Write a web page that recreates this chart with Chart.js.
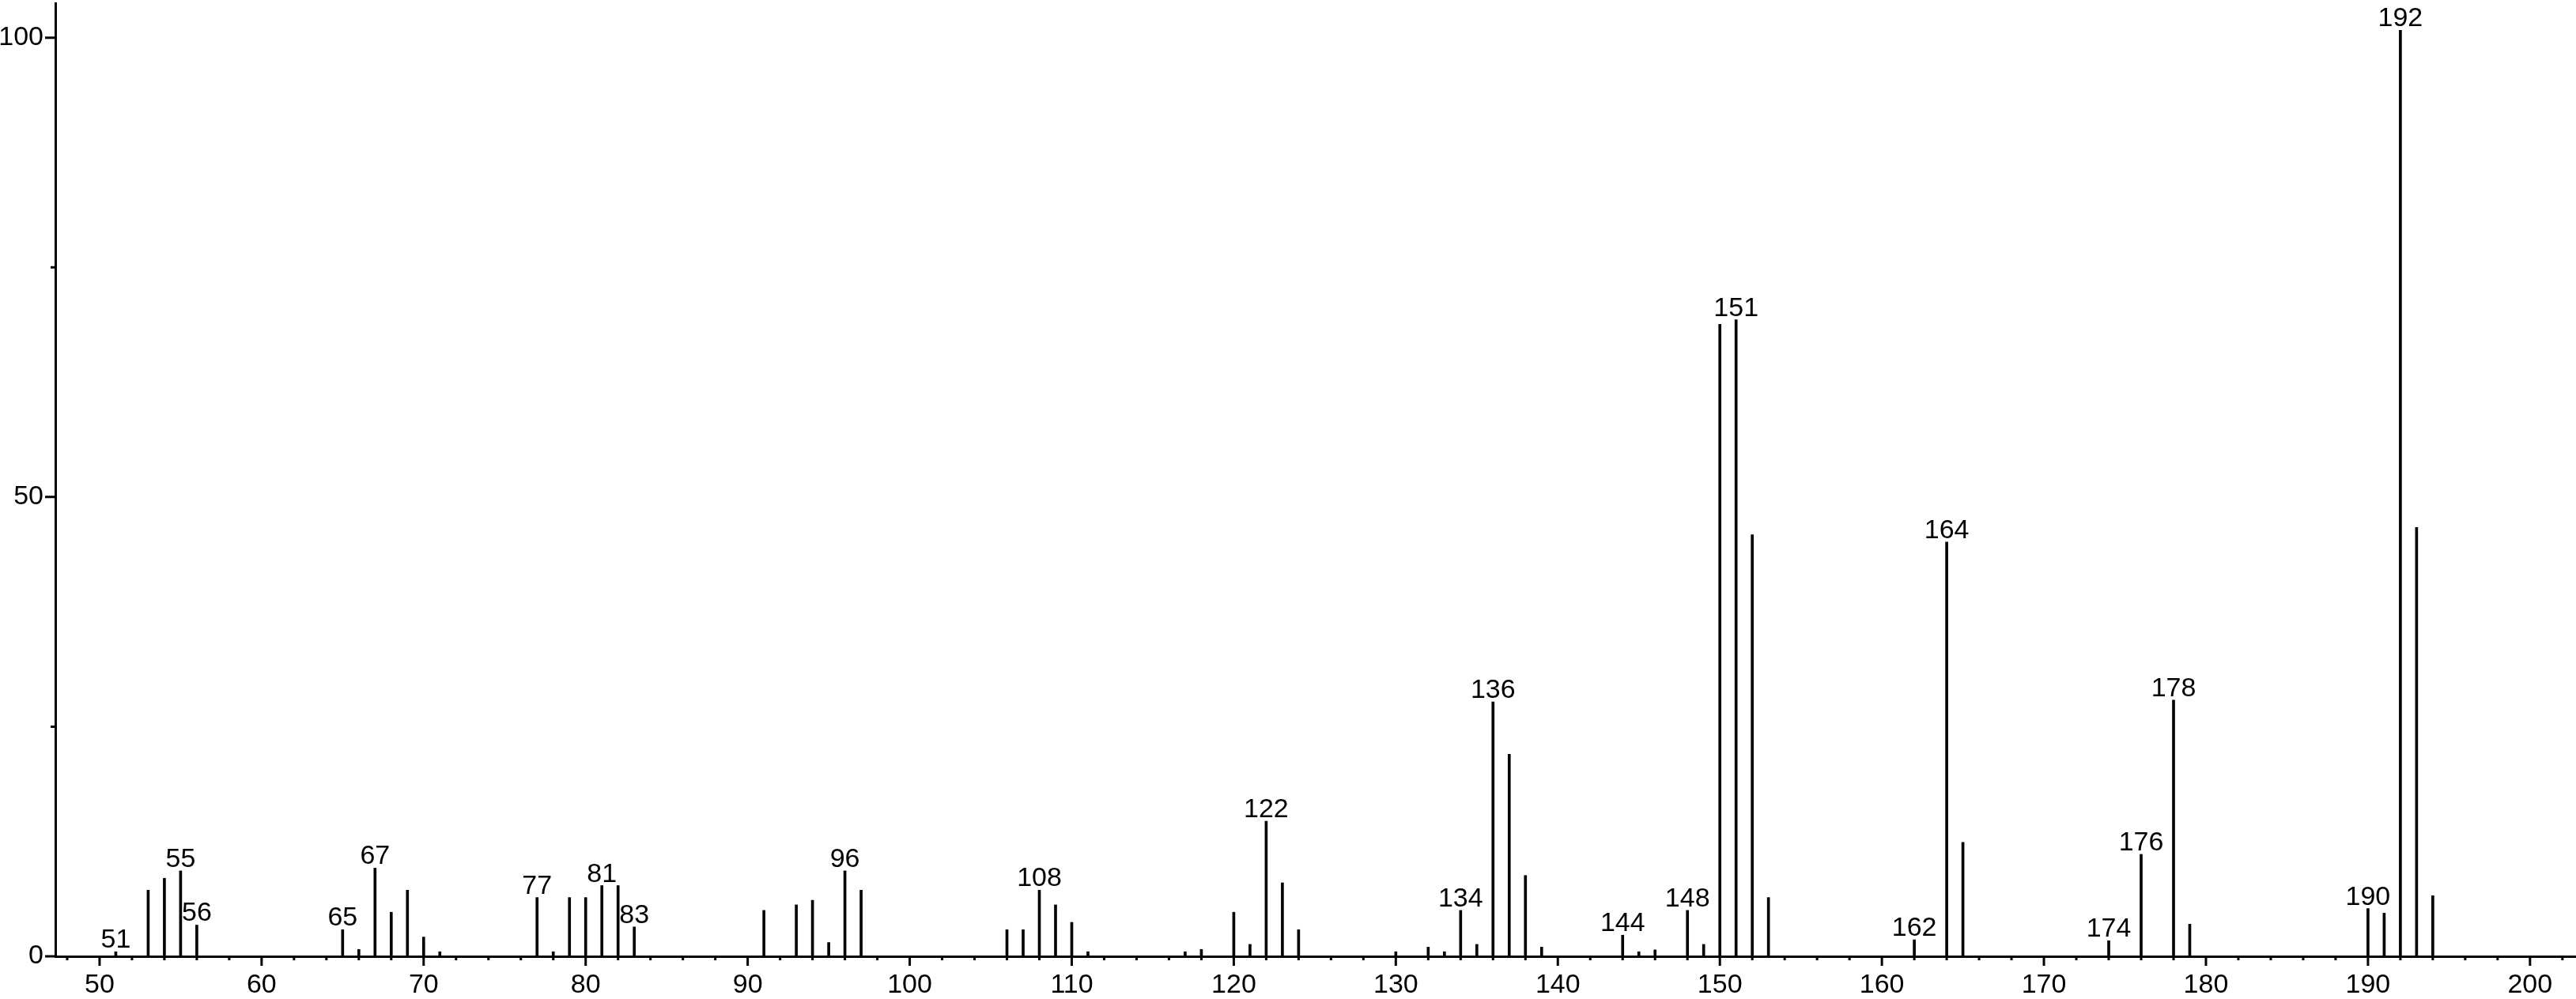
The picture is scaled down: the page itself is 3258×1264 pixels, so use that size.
<!DOCTYPE html>
<html>
<head>
<meta charset="utf-8">
<script src="https://cdn.jsdelivr.net/npm/chart.js@4"></script>
<style>
  html, body { margin: 0; padding: 0; background: #fff; }
  canvas { display: block; }
</style>
</head>
<body>
<canvas id="spectrum" width="3258" height="1264"></canvas>
<script>
// m/z values and relative intensities
const mz = [
  51, 53, 54, 55, 56, 65, 66, 67, 68, 69, 70, 71,
  77, 78, 79, 80, 81, 82, 83, 91, 93, 94, 95, 96, 97,
  106, 107, 108, 109, 110, 111, 117, 118, 120, 121, 122, 123, 124,
  130, 132, 133, 134, 135, 136, 137, 138, 139,
  144, 145, 146, 148, 149, 150, 151, 152, 153,
  162, 164, 165, 174, 176, 178, 179, 190, 191, 192, 193, 194
];
const intensity = [
  0.5, 7.2, 8.5, 9.3, 3.4, 2.9, 0.75, 9.6, 4.8, 7.2, 2.1, 0.5,
  6.4, 0.5, 6.4, 6.4, 7.7, 7.7, 3.2, 5.0, 5.6, 6.1, 1.5, 9.3, 7.2,
  2.9, 2.9, 7.2, 5.6, 3.7, 0.5, 0.5, 0.75, 4.8, 1.3, 14.7, 8.0, 2.9,
  0.5, 1.0, 0.5, 5.0, 1.3, 27.7, 22.0, 8.8, 1.0,
  2.3, 0.5, 0.7, 5.0, 1.3, 68.8, 69.3, 45.9, 6.4,
  1.8, 45.1, 12.4, 1.7, 11.1, 27.9, 3.5, 5.2, 4.7, 100.8, 46.7, 6.6
];
// peaks that carry an m/z label
const labelled = [51, 55, 56, 65, 67, 77, 81, 83, 96, 108, 122, 134, 136,
  144, 148, 151, 162, 164, 174, 176, 178, 190, 192];
// axis ticks
const xMajor = 10, xStep = 2;
const yMajor = 50, yStep = 25;

Chart.defaults.font.family = '"Liberation Sans", Arial, sans-serif';
Chart.defaults.font.size = 34;
Chart.defaults.color = '#000';

// tick marks: long ones at labelled values, short ones between
const tickMarks = {
  id: 'tickMarks',
  afterDraw(chart) {
    const { ctx, scales: { x, y } } = chart;
    ctx.save();
    ctx.strokeStyle = '#000';
    ctx.lineWidth = 3;
    ctx.beginPath();
    x.ticks.forEach(t => {
      const px = x.getPixelForValue(t.value);
      const len = t.value % xMajor === 0 ? 12 : 5;
      ctx.moveTo(px, x.top);
      ctx.lineTo(px, x.top + len);
    });
    y.ticks.forEach(t => {
      const py = y.getPixelForValue(t.value);
      const len = t.value % yMajor === 0 ? 13 : 6;
      ctx.moveTo(y.right - len, py);
      ctx.lineTo(y.right, py);
    });
    ctx.stroke();
    ctx.restore();
  }
};

// m/z labels above the main peaks
const peakLabels = {
  id: 'peakLabels',
  afterDatasetsDraw(chart) {
    const ctx = chart.ctx;
    const meta = chart.getDatasetMeta(0);
    ctx.save();
    ctx.font = '34px "Liberation Sans", Arial, sans-serif';
    ctx.fillStyle = '#000';
    ctx.textAlign = 'center';
    ctx.textBaseline = 'alphabetic';
    labelled.forEach(m => {
      const bar = meta.data[mz.indexOf(m)];
      if (bar) ctx.fillText(String(m), bar.x, bar.y - 5);
    });
    ctx.restore();
  }
};

new Chart(document.getElementById('spectrum'), {
  type: 'bar',
  data: {
    datasets: [{
      data: mz.map((m, i) => ({ x: m, y: intensity[i] })),
      backgroundColor: '#000',
      borderWidth: 0,
      barThickness: 3
    }]
  },
  options: {
    responsive: false,
    animation: false,
    layout: { padding: { top: 4, right: 1, left: 0, bottom: 0 } },
    plugins: { legend: { display: false }, tooltip: { enabled: false } },
    scales: {
      x: {
        type: 'linear',
        offset: false,
        min: 47.27,
        max: 202.79,
        afterFit: s => {
          s.height = 54;
          s.paddingLeft = 0;
          s.paddingRight = 0;
        },
        grid: { display: false, drawTicks: false },
        border: { display: true, color: '#000', width: 3 },
        ticks: {
          stepSize: xStep,
          includeBounds: false,
          autoSkip: false,
          maxRotation: 0,
          padding: 16,
          callback: v => (v % xMajor === 0 ? String(v) : '')
        }
      },
      y: {
        min: 0,
        max: 103.76,
        afterFit: s => {
          s.width = 70;
          s.paddingTop = 0;
          s.paddingBottom = 0;
        },
        grid: { display: false, drawTicks: false },
        border: { display: true, color: '#000', width: 3 },
        ticks: {
          stepSize: yStep,
          includeBounds: false,
          autoSkip: false,
          padding: 15,
          callback: v => (v % yMajor === 0 ? String(v) : '')
        }
      }
    }
  },
  plugins: [tickMarks, peakLabels]
});
</script>
</body>
</html>
